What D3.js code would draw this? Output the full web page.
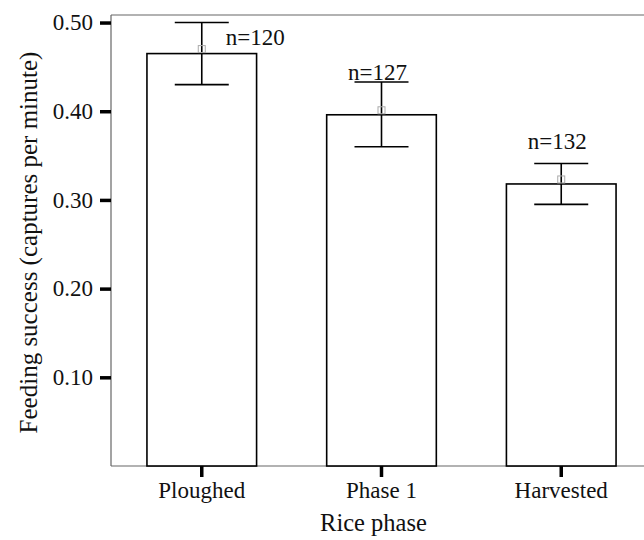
<!DOCTYPE html>
<html>
<head>
<meta charset="utf-8">
<script src="https://cdn.jsdelivr.net/npm/d3@7"></script>
<style>
  body { margin: 0; background: #ffffff; }
  svg text { font-family: "Times New Roman", "Liberation Serif", Tinos, "DejaVu Serif", serif; fill: #111; }
</style>
</head>
<body>
<script>
var SVG_WIDTH = 644;
var SVG_HEIGHT = 540;

// data
var phases = ["Ploughed", "Phase 1", "Harvested"];
var means = [0.465, 0.396, 0.318];
var ci_low = [0.430, 0.360, 0.295];
var ci_high = [0.500, 0.433, 0.341];
var n_labels = ["n=120", "n=127", "n=132"];
var y_ticks = [0.10, 0.20, 0.30, 0.40, 0.50];

var plot_left = 111, plot_top = 15, plot_bottom = 466, plot_right = 652;
var frame_color = "#666666";
var font_family = "'Times New Roman', 'Liberation Serif', Tinos, 'DejaVu Serif', serif";
var font_size = 23;

var svg = d3.select("body").append("svg")
            .attr("width", SVG_WIDTH)
            .attr("height", SVG_HEIGHT)
            .attr("font-family", font_family);

// scales
var x = d3.scaleBand()
          .domain(phases)
          .range([plot_left, plot_right])
          .paddingInner(0.39)
          .paddingOuter(0.2);

var y = d3.scaleLinear()
          .domain([0, 0.5085])
          .range([plot_bottom, plot_top]);

// frame (left, top, bottom)
svg.append("line")
    .attr("x1", plot_left).attr("x2", plot_left)
    .attr("y1", plot_top).attr("y2", plot_bottom)
    .style("stroke", frame_color).style("stroke-width", 1.2);
svg.append("line")
    .attr("x1", plot_left).attr("x2", SVG_WIDTH)
    .attr("y1", plot_top).attr("y2", plot_top)
    .style("stroke", frame_color).style("stroke-width", 1.2);
svg.append("line")
    .attr("x1", plot_left).attr("x2", SVG_WIDTH)
    .attr("y1", plot_bottom).attr("y2", plot_bottom)
    .style("stroke", frame_color).style("stroke-width", 1.2);

// y axis
var y_axis = svg.append("g")
    .attr("transform", "translate(" + plot_left + ",0)")
    .call(d3.axisLeft(y).tickValues(y_ticks).tickFormat(d3.format(".2f")).tickSize(11).tickPadding(7))
    .attr("font-family", font_family)
    .attr("font-size", font_size);
y_axis.select(".domain").remove();
y_axis.selectAll(".tick line").style("stroke", "#000").style("stroke-width", 3.5);

// x axis
var x_axis = svg.append("g")
    .attr("transform", "translate(0," + plot_bottom + ")")
    .call(d3.axisBottom(x).tickSize(11).tickPadding(5))
    .attr("font-family", font_family)
    .attr("font-size", font_size);
x_axis.select(".domain").remove();
x_axis.selectAll(".tick line").style("stroke", "#000").style("stroke-width", 3.5);

// bars
svg.selectAll(".bar")
    .data(phases).enter()
  .append("rect")
    .attr("class", "bar")
    .attr("x", function (d) { return x(d); })
    .attr("width", x.bandwidth())
    .attr("y", function (d, i) { return y(means[i]); })
    .attr("height", function (d, i) { return plot_bottom - y(means[i]); })
    .style("fill", "#ffffff")
    .style("stroke", "#000")
    .style("stroke-width", 1.6);

// error bars
var cap = 27;
var err = svg.selectAll(".err")
    .data(phases).enter()
  .append("g")
    .attr("class", "err")
    .attr("transform", function (d) { return "translate(" + (x(d) + x.bandwidth() / 2) + ",0)"; });
err.append("line")
    .attr("x1", 0).attr("x2", 0)
    .attr("y1", function (d, i) { return y(ci_low[i]); })
    .attr("y2", function (d, i) { return y(ci_high[i]); })
    .style("stroke", "#000").style("stroke-width", 1.6);
err.append("line")
    .attr("x1", -cap).attr("x2", cap)
    .attr("y1", function (d, i) { return y(ci_low[i]); })
    .attr("y2", function (d, i) { return y(ci_low[i]); })
    .style("stroke", "#000").style("stroke-width", 1.6);
err.append("line")
    .attr("x1", -cap).attr("x2", cap)
    .attr("y1", function (d, i) { return y(ci_high[i]); })
    .attr("y2", function (d, i) { return y(ci_high[i]); })
    .style("stroke", "#000").style("stroke-width", 1.6);

// small mean markers
err.append("rect")
    .attr("x", -3.5).attr("width", 7)
    .attr("y", function (d, i) { return y(means[i]) - 8; })
    .attr("height", 7)
    .style("fill", "none")
    .style("stroke", "#aaaaaa")
    .style("stroke-width", 1);

// n labels (first one moved right, it would hit the frame)
err.append("text")
    .attr("x", function (d, i) { return i == 0 ? 24 : -4; })
    .attr("y", function (d, i) { return i == 0 ? y(means[i]) - 9 : y(means[i]) - 35; })
    .attr("text-anchor", function (d, i) { return i == 0 ? "start" : "middle"; })
    .style("font-size", font_size + "px")
    .text(function (d, i) { return n_labels[i]; });

// axis titles
svg.append("text")
    .attr("x", x("Phase 1") + x.bandwidth() / 2 - 8)
    .attr("y", 531)
    .attr("text-anchor", "middle")
    .style("font-size", "24.5px")
    .text("Rice phase");

svg.append("text")
    .attr("transform", "translate(37,242.5) rotate(-90)")
    .attr("text-anchor", "middle")
    .style("font-size", "25px")
    .text("Feeding success (captures per minute)");
</script>
</body>
</html>
